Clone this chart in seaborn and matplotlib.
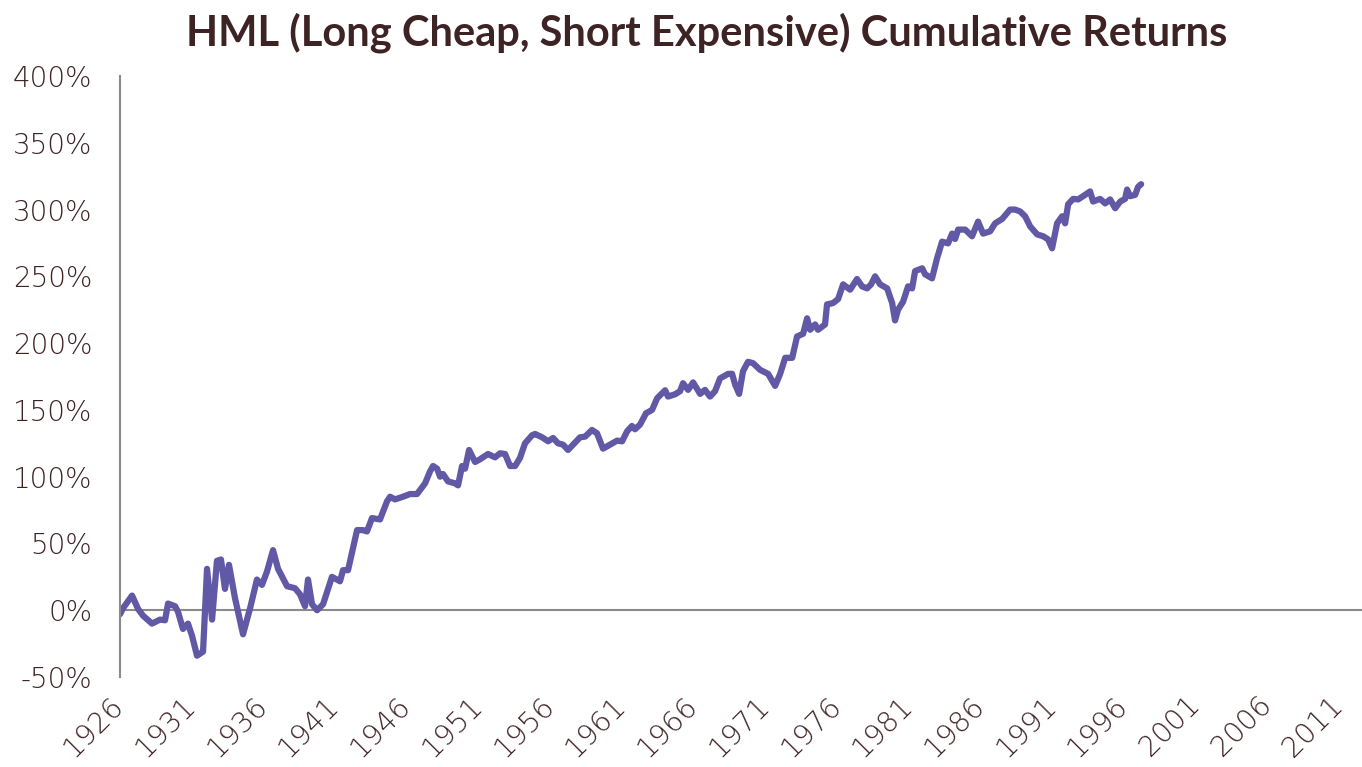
import matplotlib
matplotlib.use("Agg")
import matplotlib.pyplot as plt
import seaborn as sns
import pandas as pd
from matplotlib.ticker import PercentFormatter, FixedLocator

years = [1926.00, 1926.21, 1926.84, 1927.26, 1927.60, 1928.23, 1928.79, 1929.14, 1929.35, 1929.84,
         1930.04, 1930.39, 1930.74, 1931.02, 1931.37, 1931.79, 1932.07, 1932.42, 1932.76, 1933.04,
         1933.32, 1933.60, 1934.02, 1934.58, 1935.07, 1935.55, 1935.90, 1936.25, 1936.67, 1937.02,
         1937.65, 1938.20, 1938.55, 1938.90, 1939.11, 1939.39, 1939.74, 1940.16, 1940.78, 1941.34,
         1941.55, 1941.90, 1942.53, 1942.95, 1943.22, 1943.57, 1944.13, 1944.62, 1944.83, 1945.18,
         1945.73, 1946.22, 1946.71, 1947.27, 1947.62, 1947.83, 1948.11, 1948.32, 1948.52, 1948.87,
         1949.36, 1949.57, 1949.85, 1950.06, 1950.34, 1950.76, 1951.10, 1951.66, 1952.15, 1952.50,
         1952.85, 1953.20, 1953.55, 1953.89, 1954.24, 1954.73, 1954.94, 1955.43, 1955.85, 1956.20,
         1956.54, 1956.89, 1957.24, 1957.59, 1958.08, 1958.43, 1958.91, 1959.26, 1959.68, 1960.17,
         1960.66, 1961.01, 1961.36, 1961.70, 1961.91, 1962.26, 1962.68, 1963.10, 1963.45, 1964.01,
         1964.21, 1964.70, 1965.05, 1965.26, 1965.61, 1965.96, 1966.45, 1966.79, 1967.14, 1967.49,
         1967.84, 1968.40, 1968.68, 1968.89, 1969.17, 1969.44, 1969.79, 1970.14, 1970.63, 1971.19,
         1971.68, 1972.03, 1972.38, 1972.87, 1973.21, 1973.63, 1973.91, 1974.12, 1974.47, 1974.67,
         1975.16, 1975.30, 1975.72, 1976.07, 1976.42, 1976.91, 1977.39, 1977.74, 1978.09, 1978.37,
         1978.65, 1979.00, 1979.49, 1979.84, 1980.04, 1980.25, 1980.60, 1980.95, 1981.23, 1981.44,
         1981.93, 1982.14, 1982.62, 1982.97, 1983.32, 1983.74, 1984.02, 1984.23, 1984.44, 1984.93,
         1985.41, 1985.83, 1986.18, 1986.67, 1987.02, 1987.51, 1988.06, 1988.41, 1988.76, 1989.11,
         1989.46, 1989.95, 1990.37, 1990.71, 1990.99, 1991.34, 1991.69, 1991.90, 1992.11, 1992.46,
         1992.81, 1993.15, 1993.64, 1993.85, 1994.34, 1994.69, 1995.04, 1995.39, 1995.74, 1996.08,
         1996.22, 1996.43, 1996.78, 1996.99, 1997.20]

cum_returns = [-3, 1.5, 11, 1, -4, -10, -7, -7.5, 5, 3,
               -1, -14, -10, -19, -34, -31, 31, -7, 37, 38,
               16, 34, 9, -18, 1.5, 23, 19, 29, 45, 31,
               18, 16.5, 12, 3, 23, 4.5, 0, 4.5, 25, 21.7,
               30, 30, 60, 60, 59, 69, 68, 81.6, 85, 83,
               85, 87, 87, 95, 104, 108, 106, 100, 102, 96.5,
               95, 93.5, 108, 106, 120, 111, 113, 117, 114.5, 117.5,
               117, 108, 108, 114, 125, 131, 132, 129.5, 126.5, 129,
               125, 124, 120, 124, 129.5, 130, 135, 132.5, 121, 124,
               127, 126.5, 134, 138, 135.5, 139, 147.5, 150, 158.7, 164.7,
               160, 161.7, 164, 170, 165, 170.6, 162, 165, 160, 164,
               173.6, 177, 177, 169, 162, 179, 186, 185, 180, 177,
               168, 177, 189, 189, 205, 207, 218.6, 210, 214, 210,
               214, 229, 230, 233, 244, 240, 248, 242.5, 241, 244,
               250, 244, 241, 230, 217, 225, 231, 242.5, 241, 254,
               256, 251.5, 248.5, 263.5, 276, 274.7, 282, 278, 285, 285,
               280, 291, 282, 283.7, 289.7, 293, 300, 300, 298.6, 295,
               287.4, 281.4, 280, 277.7, 271, 289.7, 295, 289.7, 304, 308,
               307.6, 310, 313.6, 306, 308, 304.6, 307.6, 301, 306, 308,
               315, 310, 311, 317, 319]

x_tick_years = list(range(1926, 2012, 5))
y_ticks = [-50, 0, 50, 100, 150, 200, 250, 300, 350, 400]
title = "HML (Long Cheap, Short Expensive) Cumulative Returns"

df = pd.DataFrame({"year": years, "ret": cum_returns})

sns.set_style("white")
plt.rcParams["font.family"] = ["DejaVu Sans"]
plt.rcParams["axes.unicode_minus"] = False

text_col = "#3e2325"
line_col = "#6159a5"
axis_col = "#8f8a8a"

fig = plt.figure(figsize=(13.62, 7.67), dpi=100)
ax = fig.add_axes([0.0881, 0.1173, 0.9119, 0.7836])

sns.lineplot(data=df, x="year", y="ret", ax=ax, color=line_col, linewidth=4.5, sort=False)

ax.set_xlim(1926, 2012.6)
ax.set_ylim(-50, 400)
ax.axhline(0, color=axis_col, linewidth=1.5, zorder=1)

for s in ["top", "right", "bottom"]:
    ax.spines[s].set_visible(False)
ax.spines["left"].set_color(axis_col)
ax.spines["left"].set_linewidth(1.5)

ax.yaxis.set_major_locator(FixedLocator(y_ticks))
ax.yaxis.set_major_formatter(PercentFormatter(decimals=0))
ax.xaxis.set_major_locator(FixedLocator(x_tick_years))
ax.set_xticklabels([str(y) for y in x_tick_years])

ax.tick_params(axis="y", length=0, pad=20, labelsize=20, labelcolor=text_col)
ax.tick_params(axis="x", length=0, pad=17, labelsize=20.5, labelcolor=text_col)
for lab in ax.get_yticklabels():
    lab.set_fontweight("light")
for lab in ax.get_xticklabels():
    lab.set_fontweight("light")
    lab.set_rotation(45)
    lab.set_ha("right")
    lab.set_va("center")
    lab.set_rotation_mode("anchor")

ax.set_xlabel("")
ax.set_ylabel("")
ax.grid(False)

fig.text(0.519, 0.958, title, ha="center", va="center", fontsize=30,
         fontweight="bold", color=text_col, family=["Lato", "DejaVu Sans"])

fig.savefig("out.png", dpi=100)
